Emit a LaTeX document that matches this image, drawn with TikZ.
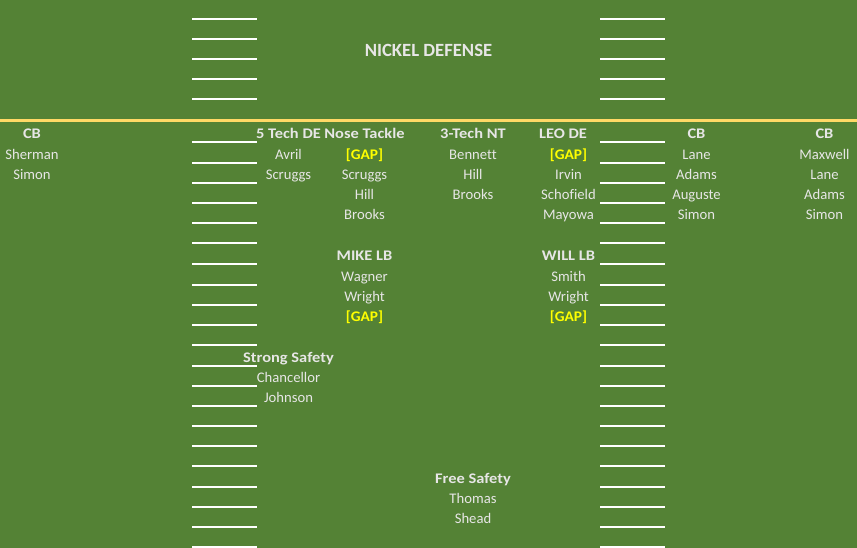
\documentclass[tikz,border=0pt]{standalone}
\usepackage{fontspec}
\setmainfont{Carlito}[Ligatures=NoCommon]
\newfontfamily\hdrfont{Carlito}[FakeStretch=1.12,Ligatures=NoCommon]
\newfontfamily\gapfont{Carlito}[FakeStretch=1.05,Ligatures=NoCommon]
\definecolor{field}{HTML}{548235}
\definecolor{txt}{HTML}{E7E6E6}
\definecolor{gapc}{HTML}{FFFF00}
\definecolor{scrim}{HTML}{FFD966}
\tikzset{
  lbl/.style={anchor=base,inner sep=0pt,text=txt,font=\fontsize{11}{13}\selectfont},
  hdr/.style={lbl,font=\hdrfont\fontsize{11}{13}\selectfont\bfseries},
  gaplbl/.style={lbl,text=gapc,font=\gapfont\fontsize{11}{13}\selectfont\bfseries},
  title/.style={anchor=base,inner sep=0pt,text=txt,font=\fontsize{14}{17}\selectfont\bfseries},
  hash/.style={draw=white,line width=1.3}
}
\begin{document}
\begin{tikzpicture}[x=0.75pt,y=-0.75pt]
\fill[field] (0,0) rectangle (857,548);
\useasboundingbox (0,0) rectangle (857,548);
% hash marks
\foreach \yy in {19,39,59,79,99,142,163,183,203,223,243,264,285,305,325,345,366,386,406,426,446,466,487,507,527,547}{
  \draw[hash] (192,\yy) -- (257,\yy);
  \draw[hash] (600,\yy) -- (665,\yy);
}
% line of scrimmage
\draw[draw=scrim,line width=2.25pt] (0,120.5) -- (857,120.5);
% title
\node[title] (t) at (428.5,56.5) {NICKEL DEFENSE};
% left CB
\node[hdr] (cb1) at (32,139) {CB};
\node[lbl] (cb1a) at (32,160) {Sherman};
\node[lbl] (cb1b) at (32,180) {Simon};
% 5 tech DE
\node[hdr] (de5) at (288.5,139) {5 Tech DE};
\node[lbl] (de5a) at (288.5,160) {Avril};
\node[lbl] (de5b) at (288.5,180) {Scruggs};
% nose tackle
\node[hdr] (nt) at (364.5,139) {Nose Tackle};
\node[gaplbl] (nta) at (364.5,160) {[GAP]};
\node[lbl] (ntb) at (364.5,180) {Scruggs};
\node[lbl] (ntc) at (364.5,200) {Hill};
\node[lbl] (ntd) at (364.5,220) {Brooks};
% 3 tech NT
\node[hdr] (t3) at (473,139) {3-Tech NT};
\node[lbl] (t3a) at (473,160) {Bennett};
\node[lbl] (t3b) at (473,180) {Hill};
\node[lbl] (t3c) at (473,200) {Brooks};
% LEO DE
\node[hdr] (leo) at (563,139) {LEO DE};
\node[gaplbl] (leoa) at (568.5,160) {[GAP]};
\node[lbl] (leob) at (568.5,180) {Irvin};
\node[lbl] (leoc) at (568.5,200) {Schofield};
\node[lbl] (leod) at (568.5,220) {Mayowa};
% CB 2
\node[hdr] (cb2) at (696.5,139) {CB};
\node[lbl] (cb2a) at (696.5,160) {Lane};
\node[lbl] (cb2b) at (696.5,180) {Adams};
\node[lbl] (cb2c) at (696.5,200) {Auguste};
\node[lbl] (cb2d) at (696.5,220) {Simon};
% CB 3
\node[hdr] (cb3) at (824.5,139) {CB};
\node[lbl] (cb3a) at (824.5,160) {Maxwell};
\node[lbl] (cb3b) at (824.5,180) {Lane};
\node[lbl] (cb3c) at (824.5,200) {Adams};
\node[lbl] (cb3d) at (824.5,220) {Simon};
% MIKE LB
\node[hdr] (mike) at (364.5,261) {MIKE LB};
\node[lbl] (mikea) at (364.5,282) {Wagner};
\node[lbl] (mikeb) at (364.5,302) {Wright};
\node[gaplbl] (mikec) at (364.5,322) {[GAP]};
% WILL LB
\node[hdr] (will) at (568.5,261) {WILL LB};
\node[lbl] (willa) at (568.5,282) {Smith};
\node[lbl] (willb) at (568.5,302) {Wright};
\node[gaplbl] (willc) at (568.5,322) {[GAP]};
% Strong safety
\node[hdr] (ss) at (288.5,363) {Strong Safety};
\node[lbl] (ssa) at (288.5,383) {Chancellor};
\node[lbl] (ssb) at (288.5,403) {Johnson};
% Free safety
\node[hdr] (fs) at (473,484) {Free Safety};
\node[lbl] (fsa) at (473,504) {Thomas};
\node[lbl] (fsb) at (473,524) {Shead};
\end{tikzpicture}
\end{document}
